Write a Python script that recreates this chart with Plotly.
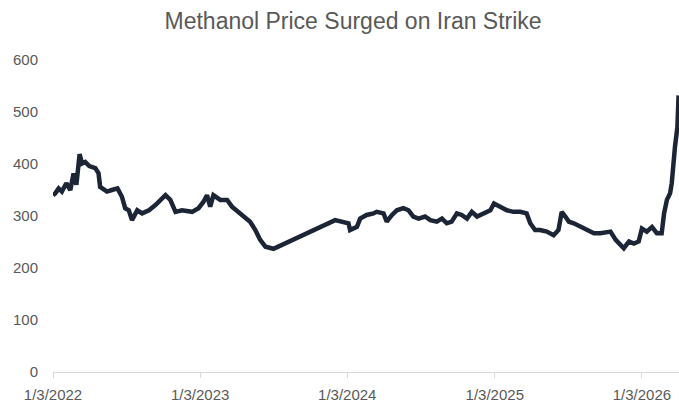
import plotly.graph_objects as go

# Methanol price series (weekly-ish observations)
dates = [
    "2022-01-03", "2022-01-09", "2022-01-17", "2022-01-25", "2022-02-05", "2022-02-15",
    "2022-02-23", "2022-03-02", "2022-03-10", "2022-03-16", "2022-03-24", "2022-04-03",
    "2022-04-18", "2022-04-26", "2022-04-30", "2022-05-17", "2022-05-29", "2022-06-12",
    "2022-06-23", "2022-07-01", "2022-07-10", "2022-07-18", "2022-07-31", "2022-08-12",
    "2022-08-29", "2022-09-14", "2022-10-09", "2022-10-21", "2022-11-03", "2022-11-19",
    "2022-12-14", "2022-12-30", "2023-01-11", "2023-01-20", "2023-01-28", "2023-02-05",
    "2023-02-22", "2023-03-11", "2023-03-23", "2023-04-08", "2023-04-21", "2023-05-07",
    "2023-05-20", "2023-06-01", "2023-06-14", "2023-06-26", "2023-07-04",
    "2023-12-04", "2023-12-21", "2024-01-06", "2024-01-10", "2024-01-27", "2024-02-04",
    "2024-02-20", "2024-03-08", "2024-03-16", "2024-04-02", "2024-04-10", "2024-04-23",
    "2024-05-05", "2024-05-21", "2024-06-03", "2024-06-15", "2024-06-28", "2024-07-14",
    "2024-07-27", "2024-08-12", "2024-08-25", "2024-09-06", "2024-09-18", "2024-10-01",
    "2024-10-13", "2024-10-26", "2024-11-07", "2024-11-20", "2024-12-06", "2024-12-23",
    "2025-01-01", "2025-01-16", "2025-02-02", "2025-02-18", "2025-03-07", "2025-03-23",
    "2025-04-01", "2025-04-13", "2025-04-25", "2025-05-12", "2025-05-29", "2025-06-10",
    "2025-06-18", "2025-06-27", "2025-07-06", "2025-07-18", "2025-08-04", "2025-08-20",
    "2025-09-06", "2025-09-22", "2025-10-17", "2025-10-30", "2025-11-11", "2025-11-19",
    "2025-12-02", "2025-12-14", "2025-12-26", "2026-01-03", "2026-01-15", "2026-01-28",
    "2026-02-09", "2026-02-21", "2026-02-27", "2026-03-06", "2026-03-14", "2026-03-18",
    "2026-03-26", "2026-04-01", "2026-04-04",
]
prices = [
    340, 344, 353, 347, 363, 350,
    382, 360, 419, 401, 404, 396,
    392, 382, 356, 347, 350, 353,
    337, 315, 311, 292, 311, 305,
    311, 321, 340, 331, 308, 311,
    308, 315, 327, 340, 318, 340,
    331, 331, 318, 308, 299, 289,
    273, 254, 241, 238, 237,
    292, 289, 286, 273, 279, 295,
    302, 305, 308, 305, 289, 302,
    311, 315, 311, 299, 295, 299,
    292, 289, 295, 286, 289, 305,
    302, 295, 308, 299, 305, 311,
    324, 318, 311, 308, 308, 305,
    286, 273, 273, 270, 263, 273,
    308, 299, 289, 286, 279, 273,
    267, 267, 270, 254, 244, 238,
    251, 247, 251, 276, 270, 279,
    267, 267, 305, 331, 344, 363,
    433, 471, 532,
]

tick_dates = ["2022-01-03", "2023-01-03", "2024-01-03", "2025-01-03", "2026-01-03"]
tick_labels = ["1/3/2022", "1/3/2023", "1/3/2024", "1/3/2025", "1/3/2026"]
y_ticks = [0, 100, 200, 300, 400, 500, 600]

FONT = "Liberation Sans"
GREY = "#595959"

fig = go.Figure(
    go.Scatter(
        x=dates,
        y=prices,
        mode="lines",
        line=dict(color="#1c2536", width=4.5),
        hoverinfo="x+y",
    )
)

fig.update_layout(
    width=679,
    height=408,
    margin=dict(l=53, r=0, t=60, b=36),
    paper_bgcolor="white",
    plot_bgcolor="white",
    showlegend=False,
    title=dict(
        text="Methanol Price Surged on Iran Strike",
        x=0.52,
        xref="container",
        xanchor="center",
        y=1 - 21 / 408,
        yref="container",
        yanchor="middle",
        font=dict(family=FONT, size=23, color=GREY),
    ),
    font=dict(family=FONT, size=15, color=GREY),
)

fig.update_xaxes(
    type="date",
    range=["2022-01-03", "2026-04-05"],
    tickvals=tick_dates,
    ticktext=tick_labels,
    showgrid=False,
    zeroline=False,
    showline=True,
    linecolor="#d9d9d9",
    linewidth=1,
    ticks="outside",
    ticklen=5,
    tickcolor="#d9d9d9",
    ticklabelstandoff=4,
    tickfont=dict(family=FONT, size=15, color=GREY),
)

fig.update_yaxes(
    range=[0, 600],
    tickvals=y_ticks,
    showgrid=False,
    zeroline=False,
    showline=False,
    ticks="",
    ticklabelstandoff=14,
    tickfont=dict(family=FONT, size=15, color=GREY),
)

fig.write_html("out.html")
